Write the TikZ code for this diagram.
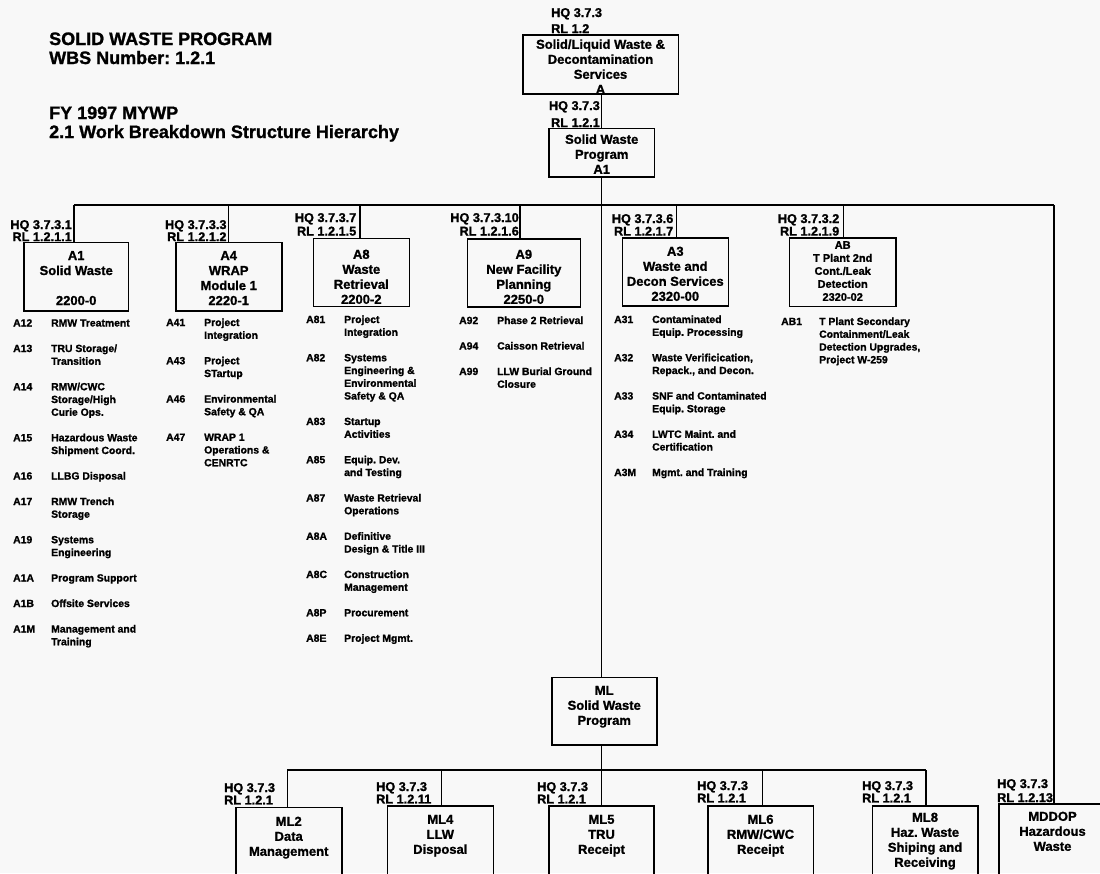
\documentclass[tikz,border=0pt]{standalone}
\usepackage{fontspec}
\setmainfont{Liberation Sans}[BoldFeatures={FakeBold=1.2}]
\usetikzlibrary{calc}
\definecolor{bgc}{RGB}{248,248,248}
\frenchspacing
\newcommand\wbsB[1]{\begin{tabular}[t]{@{}c@{}}#1\end{tabular}}
\newcommand\wbsR[1]{\begin{tabular}[t]{@{}r@{}}#1\end{tabular}}
\newcommand\wbsL[1]{\begin{tabular}[t]{@{}l@{}}#1\end{tabular}}
\newcommand\wbsList[1]{\begin{tabular}[t]{@{}p{38pt}@{}l@{}}#1\end{tabular}}
\newcommand\wbsfBox{\fontsize{13}{15}\selectfont\bfseries}
\newcommand\wbsfSmall{\fontsize{11}{13}\selectfont\bfseries}
\newcommand\wbsfList{\fontsize{10.4}{12.75}\selectfont\bfseries}
\newcommand\wbsfTitle{\fontsize{18}{19}\selectfont\bfseries}
\begin{document}
\begin{tikzpicture}[x=1pt,y=-1pt,
  box/.style={draw,line width=1.6pt,inner sep=0pt,anchor=north,font=\wbsfBox},
  conn/.style={line width=1.4pt},
  lbl/.style={inner sep=0pt},
  lst/.style={inner sep=0pt,anchor=base west,font=\wbsfList}]
\useasboundingbox (0,0) rectangle (1100,873);
\clip (0,0) rectangle (1100,873);
\fill[bgc] (0,0) rectangle (1100,873);

% titles
\node[lbl,anchor=base west,font=\wbsfTitle] (title) at (49,45) {\wbsL{SOLID WASTE PROGRAM\\WBS Number: 1.2.1}};
\node[lbl,anchor=base west,font=\wbsfTitle] (subtitle) at (49,119) {\wbsL{FY 1997 MYWP\\2.1 Work Breakdown Structure Hierarchy}};

% top boxes
\node[box,minimum width=155.6pt,text height=14pt,text depth=45.3pt] (tb) at (600.5,34) {\wbsB{Solid/Liquid Waste \&\\Decontamination\\Services\\A}};
\node[box,minimum width=105.3pt,text height=15.3pt,text depth=33pt] (sw) at (601.7,127.7) {\wbsB{Solid Waste\\Program\\A1}};
\node[lbl,anchor=base west,font=\fontsize{12.7}{16}\selectfont\bfseries] (ltb) at (551,17) {\wbsL{HQ 3.7.3\\RL 1.2}};
\node[lbl,anchor=base east,font=\fontsize{12.7}{17}\selectfont\bfseries] (lsw) at (600,110) {\wbsR{HQ 3.7.3\\RL 1.2.1}};

% second level boxes
\node[box,minimum width=104.3pt,text height=17.5pt,text depth=50.8pt] (a1) at (76.2,241.7) {\wbsB{A1\\Solid Waste\\ \\2200-0}};
\node[box,minimum width=106pt,text height=17.5pt,text depth=50.8pt] (a4) at (228.7,241.7) {\wbsB{A4\\WRAP\\Module 1\\2220-1}};
\node[box,minimum width=96pt,text height=20.3pt,text depth=47.7pt] (a8) at (361.3,237.7) {\wbsB{A8\\Waste\\Retrieval\\2200-2}};
\node[box,minimum width=113pt,text height=20pt,text depth=48pt] (a9) at (523.8,238) {\wbsB{A9\\New Facility\\Planning\\2250-0}};
\node[box,minimum width=106pt,text height=17.7pt,text depth=50pt] (a3) at (675.3,237.3) {\wbsB{A3\\Waste and\\Decon Services\\2320-00}};
\node[box,font=\wbsfSmall,minimum width=106.7pt,text height=10.7pt,text depth=57.6pt] (ab) at (842.7,237.3) {\wbsB{AB\\T Plant 2nd\\Cont./Leak\\Detection\\2320-02}};

% second level labels
\node[lbl,anchor=base east,font=\fontsize{12.7}{11}\selectfont\bfseries] (la1) at (72,229) {\wbsR{HQ 3.7.3.1\\RL 1.2.1.1}};
\node[lbl,anchor=base east,font=\fontsize{12.7}{11}\selectfont\bfseries] (la4) at (226.7,229) {\wbsR{HQ 3.7.3.3\\RL 1.2.1.2}};
\node[lbl,anchor=base east,font=\fontsize{12.7}{13.5}\selectfont\bfseries] (la8) at (356.5,222) {\wbsR{HQ 3.7.3.7\\RL 1.2.1.5}};
\node[lbl,anchor=base east,font=\fontsize{12.7}{13.5}\selectfont\bfseries] (la9) at (519,222) {\wbsR{HQ 3.7.3.10\\RL 1.2.1.6}};
\node[lbl,anchor=base east,font=\fontsize{12.7}{12.5}\selectfont\bfseries] (la3) at (673.5,223) {\wbsR{HQ 3.7.3.6\\RL 1.2.1.7}};
\node[lbl,anchor=base east,font=\fontsize{12.7}{12.5}\selectfont\bfseries] (lab) at (839.5,223) {\wbsR{HQ 3.7.3.2\\RL 1.2.1.9}};

% lists
\node[lst] (l1) at (13,326.5) {\wbsList{A12 & RMW Treatment\\ \\
A13 & TRU Storage/\\ & Transition\\ \\
A14 & RMW/CWC\\ & Storage/High\\ & Curie Ops.\\ \\
A15 & Hazardous Waste\\ & Shipment Coord.\\ \\
A16 & LLBG Disposal\\ \\
A17 & RMW Trench\\ & Storage\\ \\
A19 & Systems\\ & Engineering\\ \\
A1A & Program Support\\ \\
A1B & Offsite Services\\ \\
A1M & Management and\\ & Training}};
\node[lst] (l4) at (166,326) {\wbsList{A41 & Project\\ & Integration\\ \\
A43 & Project\\ & STartup\\ \\
A46 & Environmental\\ & Safety \& QA\\ \\
A47 & WRAP 1\\ & Operations \&\\ & CENRTC}};
\node[lst] (l8) at (306,323) {\wbsList{A81 & Project\\ & Integration\\ \\
A82 & Systems\\ & Engineering \&\\ & Environmental\\ & Safety \& QA\\ \\
A83 & Startup\\ & Activities\\ \\
A85 & Equip. Dev.\\ & and Testing\\ \\
A87 & Waste Retrieval\\ & Operations\\ \\
A8A & Definitive\\ & Design \& Title III\\ \\
A8C & Construction\\ & Management\\ \\
A8P & Procurement\\ \\
A8E & Project Mgmt.}};
\node[lst] (l9) at (459,324) {\wbsList{A92 & Phase 2 Retrieval\\ \\
A94 & Caisson Retrieval\\ \\
A99 & LLW Burial Ground\\ & Closure}};
\node[lst] (l3) at (614,323) {\wbsList{A31 & Contaminated\\ & Equip. Processing\\ \\
A32 & Waste Verificication,\\ & Repack., and Decon.\\ \\
A33 & SNF and Contaminated\\ & Equip. Storage\\ \\
A34 & LWTC Maint. and\\ & Certification\\ \\
A3M & Mgmt. and Training}};
\node[lst] (lb) at (781,325) {\wbsList{AB1 & T Plant Secondary\\ & Containment/Leak\\ & Detection Upgrades,\\ & Project W-259}};

% lower boxes
\node[box,minimum width=105pt,text height=17.3pt,text depth=50.3pt] (ml) at (604.2,676.7) {\wbsB{ML\\Solid Waste\\Program}};
\node[box,minimum width=106pt,text height=18.3pt,text depth=70pt] (ml2) at (288.7,806.7) {\wbsB{ML2\\Data\\Management}};
\node[box,minimum width=106pt,text height=18pt,text depth=70pt] (ml4) at (440.3,805) {\wbsB{ML4\\LLW\\Disposal}};
\node[box,minimum width=105pt,text height=18pt,text depth=70pt] (ml5) at (601.5,805) {\wbsB{ML5\\TRU\\Receipt}};
\node[box,minimum width=105.6pt,text height=18pt,text depth=70pt] (ml6) at (760.5,805) {\wbsB{ML6\\RMW/CWC\\Receipt}};
\node[box,minimum width=105.4pt,text height=16pt,text depth=70pt] (ml8) at (925,805) {\wbsB{ML8\\Haz. Waste\\Shiping and\\Receiving}};
\node[box,minimum width=107pt,text height=16.7pt,text depth=70pt] (mddop) at (1052.5,803.3) {\wbsB{MDDOP\\Hazardous\\Waste}};

% lower labels
\node[lbl,anchor=base west,font=\fontsize{12.7}{12}\selectfont\bfseries] (lml2) at (224,792) {\wbsL{HQ 3.7.3\\RL 1.2.1}};
\node[lbl,anchor=base west,font=\fontsize{12.7}{12}\selectfont\bfseries] (lml4) at (376,791) {\wbsL{HQ 3.7.3\\RL 1.2.11}};
\node[lbl,anchor=base west,font=\fontsize{12.7}{12}\selectfont\bfseries] (lml5) at (537,791) {\wbsL{HQ 3.7.3\\RL 1.2.1}};
\node[lbl,anchor=base west,font=\fontsize{12.7}{12}\selectfont\bfseries] (lml6) at (697,790) {\wbsL{HQ 3.7.3\\RL 1.2.1}};
\node[lbl,anchor=base west,font=\fontsize{12.7}{12}\selectfont\bfseries] (lml8) at (862,790) {\wbsL{HQ 3.7.3\\RL 1.2.1}};
\node[lbl,anchor=base west,font=\fontsize{12.7}{14}\selectfont\bfseries] (lmd) at (997,788) {\wbsL{HQ 3.7.3\\RL 1.2.13}};

% bus coordinates
\coordinate (bL) at (74,205);
\coordinate (b4) at (228.3,205);
\coordinate (b8) at (360,205);
\coordinate (b9) at (520,205);
\coordinate (bC) at (601.7,205);
\coordinate (b3) at (676.7,205);
\coordinate (bB) at (843.3,205);
\coordinate (bR) at (1054,205);
\coordinate (cL) at (287.3,770);
\coordinate (c4) at (441.7,770);
\coordinate (c5) at (601.7,770);
\coordinate (c6) at (762.3,770);
\coordinate (c8) at (926,770);

% connectors
\draw[conn] (sw.north) -- (sw.north |- tb.south);
\draw[conn] (sw.south) -- (bC);
\draw[conn] (bL) -- (bR);
\draw[conn] (bL) -- (bL |- a1.north);
\draw[conn] (b4) -- (b4 |- a4.north);
\draw[conn] (b8) -- (b8 |- a8.north);
\draw[conn] (b9) -- (b9 |- a9.north);
\draw[conn] (b3) -- (b3 |- a3.north);
\draw[conn] (bB) -- (bB |- ab.north);
\draw[conn] (bC) -- (bC |- ml.north);
\draw[conn] (bR) -- (bR |- mddop.north);
\draw[conn] (c5 |- ml.south) -- (c5);
\draw[conn] (cL) -- (c8);
\draw[conn] (cL) -- (cL |- ml2.north);
\draw[conn] (c4) -- (c4 |- ml4.north);
\draw[conn] (c5) -- (c5 |- ml5.north);
\draw[conn] (c6) -- (c6 |- ml6.north);
\draw[conn] (c8) -- (c8 |- ml8.north);
\end{tikzpicture}
\end{document}
